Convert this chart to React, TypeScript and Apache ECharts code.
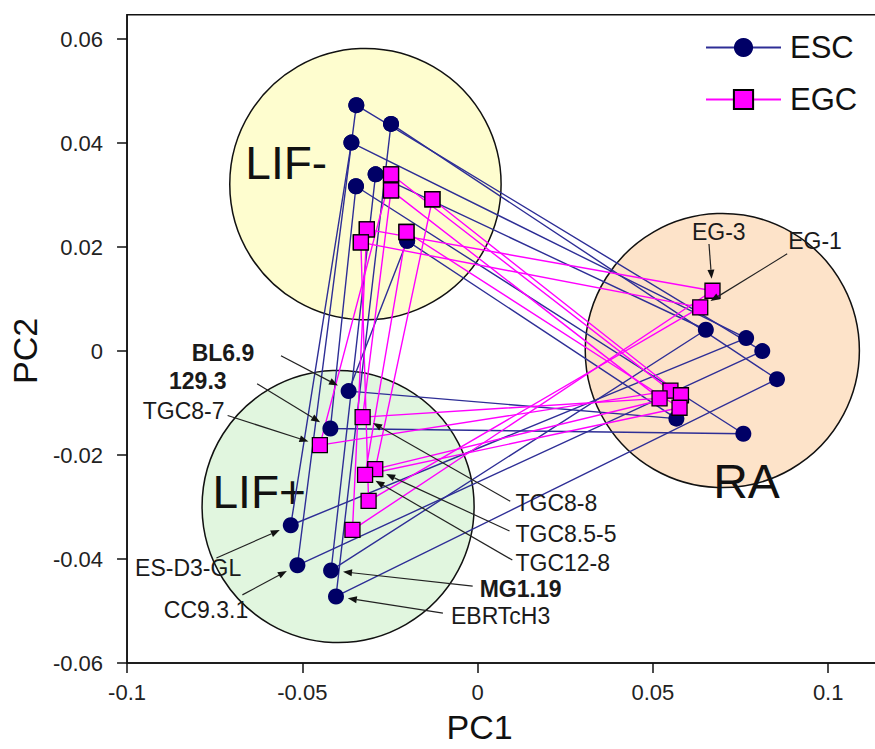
import React, { useEffect, useRef } from 'react';
import * as echarts from 'echarts';

const FONT = '"Liberation Sans", Arial, sans-serif';

// Axis ticks
const xTickValues = [-0.1, -0.05, 0, 0.05, 0.1];
const xTickLabels = ['-0.1', '-0.05', '0', '0.05', '0.1'];
const yTickValues = [-0.06, -0.04, -0.02, 0, 0.02, 0.04, 0.06];
const yTickLabels = ['-0.06', '-0.04', '-0.02', '0', '0.02', '0.04', '0.06'];

// Conditions (circles)
const conditions = ['LIF-', 'LIF+', 'RA'];
const conditionCenters = [[-0.032, 0.0321], [-0.0398, -0.0299], [0.0698, 0.0001]];
const conditionRadius = [0.0387, 0.0388, 0.0391];

// ESC cell lines: [PC1, PC2] for LIF-, LIF+, RA
const escNames = ['CC9.3.1', 'EBRTcH3', 'ES-D3-GL', 'MG1.19', '129.3', 'BL6.9'];
const escLIFminus = [[-0.0346, 0.0473], [-0.0247, 0.0437], [-0.036, 0.0401], [-0.0291, 0.034], [-0.0347, 0.0317], [-0.0201, 0.0212]];
const escLIFplus = [[-0.0514, -0.0412], [-0.0404, -0.0472], [-0.0533, -0.0335], [-0.0418, -0.0422], [-0.042, -0.0149], [-0.0368, -0.0077]];
const escRA = [[0.0812, 0.0], [0.0854, -0.0054], [0.0766, 0.0025], [0.0651, 0.0041], [0.0758, -0.0159], [0.0567, -0.013]];

// EGC cell lines
const egcNames = ['TGC8-7', 'TGC8-8', 'TGC8.5-5', 'TGC12-8', 'EG-3', 'EG-1'];
const egcLIFminus = [[-0.0247, 0.034], [-0.0247, 0.0309], [-0.0129, 0.0292], [-0.0203, 0.0229], [-0.0316, 0.0234], [-0.0333, 0.0209]];
const egcLIFplus = [[-0.045, -0.0181], [-0.0328, -0.0127], [-0.0292, -0.0227], [-0.0321, -0.0238], [-0.0357, -0.0344], [-0.0311, -0.0288]];
const egcRA = [[0.055, -0.0076], [0.0519, -0.0091], [0.058, -0.0085], [0.0576, -0.0109], [0.067, 0.0116], [0.0635, 0.0084]];

// Annotated points
const annotationNames = ['BL6.9', '129.3', 'TGC8-7', 'ES-D3-GL', 'CC9.3.1', 'TGC8-8', 'TGC8.5-5', 'TGC12-8', 'MG1.19', 'EBRTcH3', 'EG-3', 'EG-1'];
const annotationCondition = ['LIF+', 'LIF+', 'LIF+', 'LIF+', 'LIF+', 'LIF+', 'LIF+', 'LIF+', 'LIF+', 'LIF+', 'RA', 'RA'];

// ---- layout (positions/styles of annotations, in axis units) ----
const conditionLabelPos = [[-0.0546, 0.0362], [-0.0623, -0.0272], [0.0767, -0.0251]];
const conditionLabelSize = [46, 46, 48];
const conditionFills = ['#fefdcf', '#e1f6df', '#fde3c9'];
const annotationTextPos = [
  [-0.0637, -0.0003], [-0.0716, -0.0057], [-0.0722, -0.0116], [-0.0977, -0.0417], [-0.0895, -0.0498],
  [0.0108, -0.0293], [0.0108, -0.0352], [0.0108, -0.0408], [0.0006, -0.0458], [-0.0076, -0.051],
  [0.0688, 0.0229], [0.0886, 0.0211],
];
const annotationAlign = ['right', 'right', 'right', 'left', 'left', 'left', 'left', 'left', 'left', 'left', 'center', 'left'];
const annotationBold = [true, true, false, false, false, false, false, false, true, false, false, false];
const annotationArrowStart = [
  [-0.0561, -0.0009], [-0.0629, -0.0063], [-0.0713, -0.0124], [-0.0745, -0.0398], [-0.0671, -0.0469],
  [0.0093, -0.0289], [0.0091, -0.0346], [0.0099, -0.0402], [-0.0014, -0.0452], [-0.0099, -0.0504],
  [0.066, 0.0206], [0.0883, 0.0187],
];

function tickLabel(values: number[], labels: string[], v: number) {
  for (let i = 0; i < values.length; i++) if (Math.abs(values[i] - v) < 1e-9) return labels[i];
  return '';
}

function lookupPoint(name: string, cond: string): number[] {
  let idx = escNames.indexOf(name);
  if (idx >= 0) return cond === 'LIF-' ? escLIFminus[idx] : cond === 'LIF+' ? escLIFplus[idx] : escRA[idx];
  idx = egcNames.indexOf(name);
  return cond === 'LIF-' ? egcLIFminus[idx] : cond === 'LIF+' ? egcLIFplus[idx] : egcRA[idx];
}

export default function App() {
  const ref = useRef<HTMLDivElement>(null);
  useEffect(() => {
    const chart = echarts.init(ref.current!, null, { renderer: 'svg' });
    const axisColor = '#111';
    const series: any[] = [];

    series.push({
      type: 'custom',
      name: 'conditions',
      silent: true,
      z: 1,
      clip: false,
      data: conditions.map((c, i) => [conditionCenters[i][0], conditionCenters[i][1], conditionRadius[i], i]),
      encode: { x: 0, y: 1 },
      renderItem: (params: any, api: any) => {
        const i = api.value(3);
        const c = api.coord([api.value(0), api.value(1)]);
        const r = api.size([api.value(2), 0])[0];
        const lp = api.coord(conditionLabelPos[i]);
        return {
          type: 'group',
          children: [
            { type: 'circle', shape: { cx: c[0], cy: c[1], r }, style: { fill: conditionFills[i], stroke: '#111', lineWidth: 1.5 } },
            {
              type: 'text',
              style: { text: conditions[i], x: lp[0], y: lp[1], fill: '#111', fontSize: conditionLabelSize[i], fontFamily: FONT, align: 'center', verticalAlign: 'middle' },
            },
          ],
        };
      },
    });

    escNames.forEach((n, i) => {
      series.push({
        type: 'line',
        name: 'ESC',
        z: 2,
        silent: true,
        data: [escLIFminus[i], escLIFplus[i], escRA[i], escLIFminus[i]],
        symbol: 'circle',
        symbolSize: 16,
        showAllSymbol: true,
        lineStyle: { color: '#2e2e96', width: 1.4 },
        itemStyle: { color: '#000066', borderWidth: 0 },
      });
    });
    egcNames.forEach((n, i) => {
      series.push({
        type: 'line',
        name: 'EGC',
        z: 2,
        silent: true,
        data: [egcLIFminus[i], egcLIFplus[i], egcRA[i], egcLIFminus[i]],
        symbol: 'rect',
        symbolSize: 15,
        showAllSymbol: true,
        lineStyle: { color: '#ff00ff', width: 1.4 },
        itemStyle: { color: '#ff00ff', borderColor: '#000', borderWidth: 1.3 },
      });
    });

    series.push({
      type: 'custom',
      name: 'annotations',
      silent: true,
      z: 5,
      clip: false,
      data: annotationNames.map((n, i) => [annotationTextPos[i][0], annotationTextPos[i][1], i]),
      encode: { x: 0, y: 1 },
      renderItem: (params: any, api: any) => {
        const i = api.value(2);
        const tp = api.coord([api.value(0), api.value(1)]);
        const s = api.coord(annotationArrowStart[i]);
        const p = api.coord(lookupPoint(annotationNames[i], annotationCondition[i]));
        const dx = p[0] - s[0];
        const dy = p[1] - s[1];
        const len = Math.hypot(dx, dy);
        const ux = dx / len;
        const uy = dy / len;
        const tip = [p[0] - ux * 12, p[1] - uy * 12];
        const base = [tip[0] - ux * 9, tip[1] - uy * 9];
        const nx = -uy;
        const ny = ux;
        return {
          type: 'group',
          children: [
            {
              type: 'text',
              style: {
                text: annotationNames[i], x: tp[0], y: tp[1], fill: '#1a1a1a', fontSize: 23,
                fontWeight: annotationBold[i] ? 'bold' : 'normal', fontFamily: FONT,
                align: annotationAlign[i], verticalAlign: 'middle',
              },
            },
            { type: 'line', shape: { x1: s[0], y1: s[1], x2: base[0], y2: base[1] }, style: { stroke: '#222', lineWidth: 1.2 } },
            {
              type: 'polygon',
              shape: { points: [tip, [base[0] + nx * 3.5, base[1] + ny * 3.5], [base[0] - nx * 3.5, base[1] - ny * 3.5]] },
              style: { fill: '#111' },
            },
          ],
        };
      },
    });

    const option: any = {
      animation: false,
      backgroundColor: '#fff',
      grid: { left: 121.3, right: 1.7, top: 14.7, bottom: 83.7, show: true, borderColor: axisColor, borderWidth: 1.5, backgroundColor: 'transparent' },
      legend: {
        data: ['ESC', 'EGC'],
        orient: 'vertical',
        left: 700,
        top: 27,
        itemWidth: 75,
        itemHeight: 24,
        itemGap: 21,
        selectedMode: false,
        textStyle: { fontSize: 31, fontFamily: FONT, color: '#111', padding: [0, 0, 0, 4] },
      },
      xAxis: {
        type: 'value',
        min: -0.1,
        max: 0.12,
        name: 'PC1',
        nameLocation: 'middle',
        nameGap: 47,
        nameTextStyle: { fontSize: 34, fontFamily: FONT, color: '#111', padding: [0, 66, 0, 0] },
        axisLine: { show: true, onZero: false, lineStyle: { color: axisColor, width: 1.5 } },
        axisTick: { show: true, inside: false, length: 10, customValues: xTickValues, lineStyle: { color: axisColor, width: 1.5 } },
        axisLabel: {
          customValues: xTickValues,
          formatter: (v: number) => tickLabel(xTickValues, xTickLabels, v),
          margin: 18, fontSize: 22, fontFamily: FONT, color: '#222',
        },
        splitLine: { show: false },
      },
      yAxis: {
        type: 'value',
        min: -0.06,
        max: 0.0647,
        name: 'PC2',
        nameLocation: 'middle',
        nameGap: 70,
        nameTextStyle: { fontSize: 34, fontFamily: FONT, color: '#111', padding: [0, 24, 0, 0] },
        axisLine: { show: true, onZero: false, lineStyle: { color: axisColor, width: 1.5 } },
        axisTick: { show: true, inside: false, length: 10, customValues: yTickValues, lineStyle: { color: axisColor, width: 1.5 } },
        axisLabel: {
          customValues: yTickValues,
          formatter: (v: number) => tickLabel(yTickValues, yTickLabels, v),
          margin: 24, fontSize: 22, fontFamily: FONT, color: '#222',
        },
        splitLine: { show: false },
      },
      series,
    };
    chart.setOption(option);
    return () => chart.dispose();
  }, []);

  return (
    <div style={{ position: 'fixed', left: 0, top: 0, width: 875, height: 749, overflow: 'hidden', background: '#fff' }}>
      <div ref={ref} style={{ width: 900, height: 749 }} />
    </div>
  );
}
